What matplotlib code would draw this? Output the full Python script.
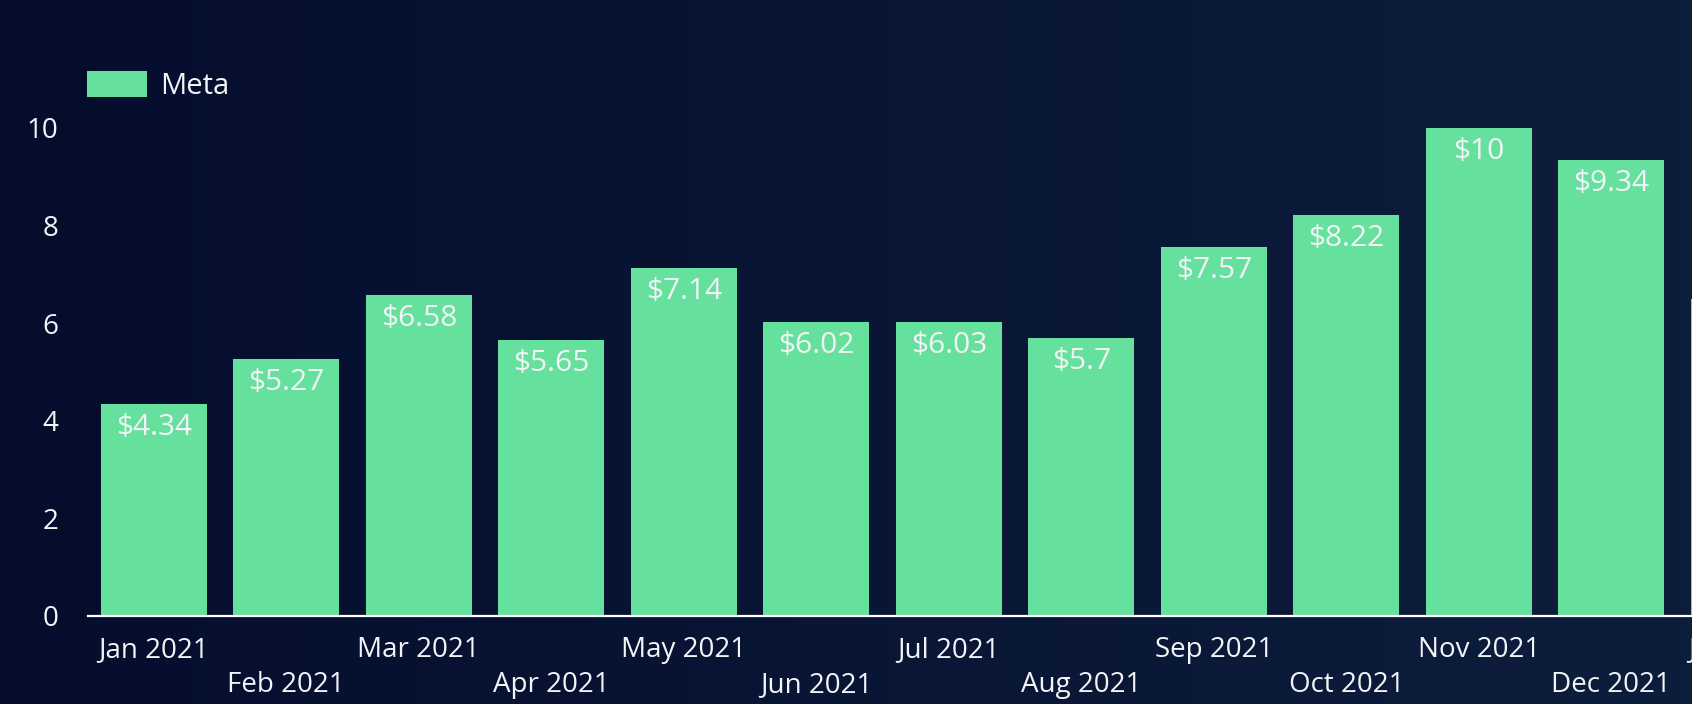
import numpy as np
import matplotlib
matplotlib.use('Agg')
import matplotlib.pyplot as plt
from matplotlib.colors import LinearSegmentedColormap

# Monthly values for the "Meta" series (last bar is cut off by the chart edge)
months = ['Jan 2021', 'Feb 2021', 'Mar 2021', 'Apr 2021', 'May 2021', 'Jun 2021',
          'Jul 2021', 'Aug 2021', 'Sep 2021', 'Oct 2021', 'Nov 2021', 'Dec 2021',
          'Jan 2022']
meta_values = [4.34, 5.27, 6.58, 5.65, 7.14, 6.02, 6.03, 5.7, 7.57, 8.22, 10, 9.34, 6.5]
value_labels = ['$4.34', '$5.27', '$6.58', '$5.65', '$7.14', '$6.02', '$6.03', '$5.7',
                '$7.57', '$8.22', '$10', '$9.34', '$6.5']
y_ticks = [0, 2, 4, 6, 8, 10]

BAR_COLOR = '#66e09d'
TEXT_COLOR = '#f2f4f7'
W, H, DPI = 1692, 704, 100

plt.rcParams['font.family'] = ['Open Sans', 'DejaVu Sans']

fig = plt.figure(figsize=(W / DPI, H / DPI), dpi=DPI)

# background gradient
bg = fig.add_axes([0, 0, 1, 1], zorder=-10)
cmap = LinearSegmentedColormap.from_list('bg', ['#050d2d', '#0d1e3c'])
bg.imshow(np.linspace(0, 1, 256).reshape(1, -1), aspect='auto', cmap=cmap,
          extent=[0, 1, 0, 1])
bg.set_axis_off()

# axes extends past the right edge of the figure, like the original
pitch = 132.5
px_unit = 48.8
left = 87.5
bottom = 704 - 616
ax = fig.add_axes([left / W, bottom / H, len(months) * pitch / W, 11 * px_unit / H])
ax.patch.set_alpha(0)

x = np.arange(len(months))
bars = ax.bar(x, meta_values, width=0.8, color=BAR_COLOR, label='Meta', zorder=2)
ax.set_xlim(-0.5, len(months) - 0.5)
ax.set_ylim(0, 11)

for bar, lbl in zip(bars, value_labels):
    ax.annotate(lbl, (bar.get_x() + bar.get_width() / 2, bar.get_height()),
                xytext=(0, -17), textcoords='offset points', ha='center', va='center',
                color=TEXT_COLOR, fontsize=21.5, zorder=3)

for s in ['top', 'right', 'left']:
    ax.spines[s].set_visible(False)
ax.spines['bottom'].set_color('white')
ax.spines['bottom'].set_linewidth(1.6)

ax.set_yticks(y_ticks)
ax.set_yticklabels([str(t) for t in y_ticks])
ax.tick_params(axis='y', length=0, pad=21, labelsize=20, labelcolor=TEXT_COLOR)

ax.set_xticks(x)
ax.set_xticklabels([m if i % 2 == 0 else '\n' + m for i, m in enumerate(months)])
ax.tick_params(axis='x', length=0, pad=14.5, labelsize=20, labelcolor=TEXT_COLOR)
for lab in ax.get_xticklabels():
    lab.set_linespacing(1.35)

leg = fig.legend(handles=[bars], labels=['Meta'], loc='upper left',
                 bbox_to_anchor=(87 / W, 1 - 71 / H), frameon=False, fontsize=21,
                 handlelength=2.05, handleheight=1.0, handletextpad=0.45,
                 borderpad=0, borderaxespad=0)
for t in leg.get_texts():
    t.set_color(TEXT_COLOR)

fig.savefig('out.png', dpi=DPI)
